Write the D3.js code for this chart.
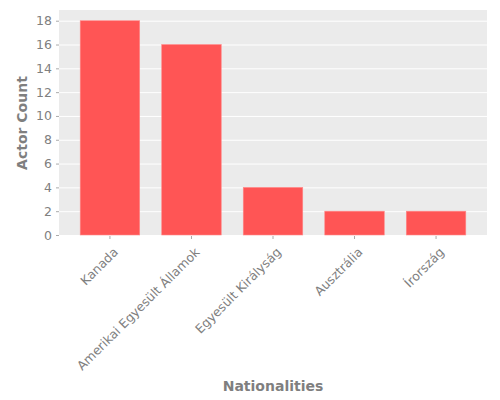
<!DOCTYPE html>
<html>
<head>
<meta charset="utf-8">
<script src="https://cdn.jsdelivr.net/npm/d3@7"></script>
<style>
  body { margin: 0; background: #fff; }
  text { font-family: "DejaVu Sans", sans-serif; }
</style>
</head>
<body>
<svg></svg>
<script>
const width = 500;
const height = 400;
const margin = { top: 10, right: 13, bottom: 164, left: 59 };

// Data
const nationalities = ["Kanada", "Amerikai Egyesült Államok", "Egyesült Királyság", "Ausztrália", "Írország"];
const actorCounts = [18, 16, 4, 2, 2];
const yTicks = [0, 2, 4, 6, 8, 10, 12, 14, 16, 18];

const svg = d3.select("svg")
    .attr("width", width)
    .attr("height", height);

const innerW = width - margin.left - margin.right;
const innerH = height - margin.top - margin.bottom;

const g = svg.append("g")
    .attr("transform", `translate(${margin.left},${margin.top})`);

const x = d3.scaleBand()
    .domain(nationalities)
    .range([0, innerW])
    .paddingInner(0.27)
    .paddingOuter(0.26);

const y = d3.scaleLinear()
    .domain([0, 18.9])
    .range([innerH - 1, 0]);

// panel background
g.append("rect")
    .attr("width", innerW)
    .attr("height", innerH)
    .style("fill", "#ebebeb");

// grid lines
g.selectAll(".grid")
    .data(yTicks)
    .enter()
    .append("line")
    .attr("x1", 0)
    .attr("x2", innerW)
    .attr("y1", d => y(d) + 0.5)
    .attr("y2", d => y(d) + 0.5)
    .style("stroke", "#fff")
    .style("stroke-width", 1);

// bars
g.selectAll(".bar")
    .data(actorCounts)
    .enter()
    .append("rect")
    .attr("x", (d, i) => x(nationalities[i]))
    .attr("y", d => y(d))
    .attr("width", x.bandwidth())
    .attr("height", d => y(0) - y(d))
    .style("fill", "#ff5555")
    .style("stroke", "#ff8a8a")
    .style("stroke-width", 0.6);

// y axis
const yAxis = g.append("g")
    .call(d3.axisLeft(y).tickValues(yTicks).tickSize(3).tickPadding(4));
yAxis.select(".domain").remove();
yAxis.selectAll("line").style("stroke", "#aaa");
yAxis.selectAll("text")
    .style("fill", "#808080")
    .style("font-size", "12.5px");

// x axis
const xAxis = g.append("g")
    .attr("transform", `translate(0,${innerH})`)
    .call(d3.axisBottom(x).tickSize(3).tickPadding(4));
xAxis.select(".domain").remove();
xAxis.selectAll("line").style("stroke", "#aaa");
xAxis.selectAll("text")
    .style("fill", "#808080")
    .style("font-size", "12.5px")
    .style("text-anchor", "end")
    .attr("dx", "-0.45em")
    .attr("dy", "0.9em")
    .attr("transform", "rotate(-45)");

// axis titles
svg.append("text")
    .attr("x", margin.left + innerW / 2)
    .attr("y", 391)
    .attr("text-anchor", "middle")
    .style("font-size", "14px")
    .style("font-weight", "bold")
    .style("fill", "#7f7f7f")
    .text("Nationalities");

svg.append("text")
    .attr("transform", `translate(27,${margin.top + innerH / 2}) rotate(-90)`)
    .attr("text-anchor", "middle")
    .style("font-size", "14px")
    .style("font-weight", "bold")
    .style("fill", "#7f7f7f")
    .text("Actor Count");
</script>
</body>
</html>
